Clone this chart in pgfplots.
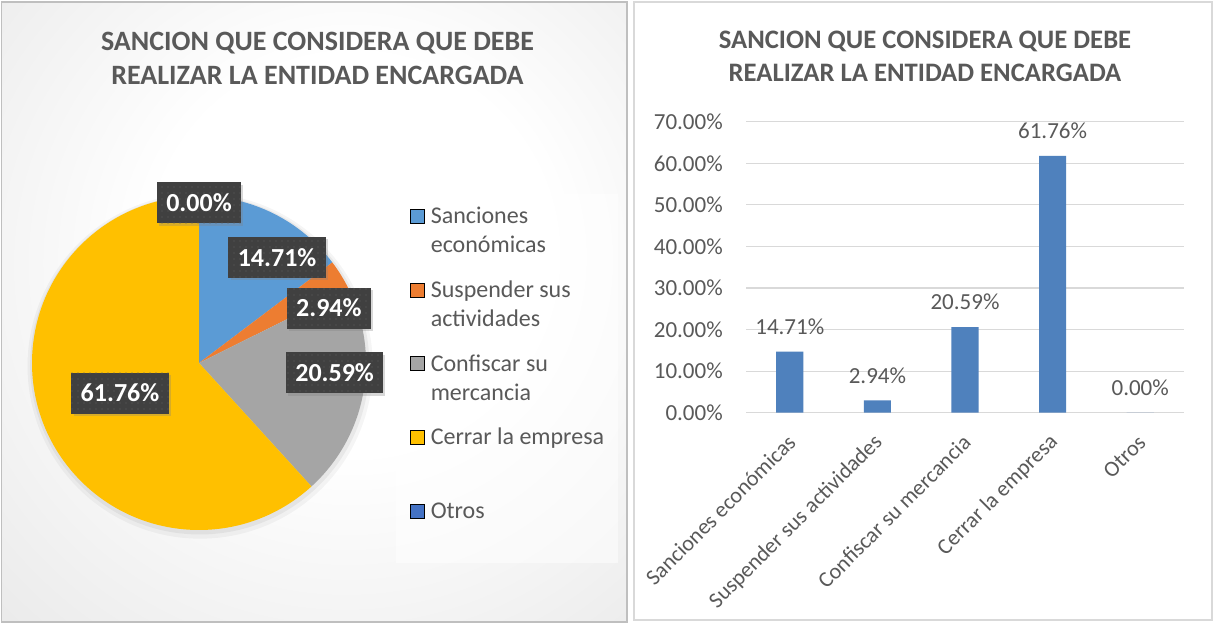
\documentclass[border=0pt]{standalone}
\usepackage{fontspec}
\setmainfont{Carlito}
\usepackage{pgfplots}
\usepackage{pgfplotstable}
\pgfplotsset{compat=1.18}
\usetikzlibrary{shadows,patterns.meta}
\pgfplotsset{/pgf/number format/assume math mode=true}

\definecolor{txt}{HTML}{595959}
\definecolor{cSan}{HTML}{5B9BD5}
\definecolor{cSus}{HTML}{ED7D31}
\definecolor{cCon}{HTML}{A5A5A5}
\definecolor{cCer}{HTML}{FFC000}
\definecolor{cOtr}{HTML}{4472C4}
\definecolor{barblue}{HTML}{4F81BD}
\definecolor{gridgray}{HTML}{D9D9D9}
\definecolor{lblbox}{HTML}{404040}

% left panel background
\pgfdeclareradialshading{panelbg}{\pgfpoint{4bp}{6bp}}{%
  color(0bp)=(white); color(16bp)=(white); color(50bp)=(black!12); color(72bp)=(black!22)}

% pie: value, label angle, label distance (px), colour
\pgfplotstableread{
name val  lang  ldist col
San  14.71 53.4 131   cSan
Sus  2.94  22.9 141   cSus
Con  20.59 -4.2 136   cCon
Cer  61.76 200.8 84.5 cCer
Otr  0.00  90   160   cOtr
}\piedata

\def\upx{0.026359}% 1 px in cm
\def\pieR{4.402}%   167 px

\tikzset{
  pielbl/.style={fill=lblbox, text=white, inner xsep=7pt, inner ysep=0pt,
    minimum height=30.75pt, font=\fontsize{19.5}{22}\selectfont\bfseries,
    drop shadow={shadow xshift=1.6pt, shadow yshift=-1.6pt, opacity=0.3},
    postaction={pattern={Dots[distance=4.5pt, radius=0.45pt]}, pattern color=white!18!lblbox}},
}

\begin{document}
\begin{tikzpicture}[x=0.75pt,y=0.75pt]
\useasboundingbox (0,0) rectangle (1215,625);
\fill[white] (0,0) rectangle (1215,625);

% ---------------- left panel: pie
\shade[shading=panelbg] (1.5,3) rectangle (627,623);
\draw[color=black!25, line width=1.2pt] (1.5,3) rectangle (627,623);
\fill[white, opacity=0.5] (396,62) rectangle (618,431);
\node[anchor=base, text=txt, font=\fontsize{21}{25}\selectfont\bfseries]
  at (317.5,574.5) {SANCION QUE CONSIDERA QUE DEBE};
\node[anchor=base, text=txt, font=\fontsize{21}{25}\selectfont\bfseries]
  at (317.5,540.4) {REALIZAR LA ENTIDAD ENCARGADA};

\gdef\pieslices{}\gdef\pielabels{}\gdef\piestart{90}
\pgfplotsforeachungrouped \i in {0,...,4}{%
  \pgfplotstablegetelem{\i}{val}\of\piedata\let\pval\pgfplotsretval
  \pgfplotstablegetelem{\i}{col}\of\piedata\let\pcol\pgfplotsretval
  \pgfplotstablegetelem{\i}{lang}\of\piedata\let\plang\pgfplotsretval
  \pgfplotstablegetelem{\i}{ldist}\of\piedata\let\pldist\pgfplotsretval
  \pgfmathsetmacro\pieend{\piestart-3.6*\pval}%
  \xdef\pieslices{\unexpanded\expandafter{\pieslices}%
    \noexpand\fill[\pcol] (axis cs:0,0) -- (axis cs:{\pieR*cos(\piestart)},{\pieR*sin(\piestart)})
      arc[start angle=\piestart, end angle=\pieend, radius=\pieR] -- cycle;}%
  \xdef\pielabels{\unexpanded\expandafter{\pielabels}%
    \noexpand\node[pielbl] at (axis cs:{\pldist*\upx*cos(\plang)},{\pldist*\upx*sin(\plang)})
      {\noexpand\pgfmathprintnumber[fixed,fixed zerofill,precision=2]{\pval}\noexpand\%};}%
  \global\let\piestart\pieend
}

\begin{axis}[
  at={(149.25pt,196.5pt)}, anchor=origin,
  x=1cm, y=1cm, xmin=-4.6, xmax=4.6, ymin=-4.6, ymax=4.6,
  hide axis, clip=false,
  legend style={at={(axis cs:5.5617,4.2069)}, anchor=north west,
    draw=none, fill=none, inner sep=0pt, row sep=38.5pt, column sep=4.5pt,
    nodes={inner sep=0pt, text=txt, font=\fontsize{18}{21.75}\selectfont},
    cells={anchor=base west}},
  legend image code/.code={\fill[#1] (0pt,0.5pt) rectangle (10.5pt,11pt);},
]
\fill[black, opacity=0.04] (axis cs:0.03,-0.08) circle[radius=4.55];
\fill[black, opacity=0.05] (axis cs:0.02,-0.05) circle[radius=4.47];
\pieslices
\pielabels
\addlegendimage{fill=cSan}
\addlegendentry{\parbox[t]{142pt}{\strut Sanciones\\económicas}}
\addlegendimage{fill=cSus}
\addlegendentry{\parbox[t]{142pt}{\strut Suspender sus\\actividades}}
\addlegendimage{fill=cCon}
\addlegendentry{\parbox[t]{142pt}{\strut Confiscar su\\mercancia}}
\addlegendimage{fill=cCer}
\addlegendentry{\parbox[t]{142pt}{\strut Cerrar la empresa}}
\addlegendimage{fill=cOtr}
\addlegendentry{\parbox[t]{142pt}{\strut Otros}}
\end{axis}

% ---------------- right panel: bars
\draw[color=gridgray, line width=1pt] (634,5) rectangle (1212,623);
\node[anchor=base, text=txt, font=\fontsize{20}{24}\selectfont\bfseries]
  at (925,576.2) {SANCION QUE CONSIDERA QUE DEBE};
\node[anchor=base, text=txt, font=\fontsize{20}{24}\selectfont\bfseries]
  at (925,543.2) {REALIZAR LA ENTIDAD ENCARGADA};

\begin{axis}[
  at={(559.5pt,159.225pt)}, anchor=south west, scale only axis,
  width=328.5pt, height=218.25pt,
  ybar, bar width=0.31,
  xmin=-0.5, xmax=4.5, ymin=0, ymax=70,
  xtick={0,...,4},
  xticklabels={Sanciones económicas,Suspender sus actividades,Confiscar su mercancia,Cerrar la empresa,Otros},
  ytick={0,10,...,70},
  yticklabel={\pgfmathprintnumber[fixed,fixed zerofill,precision=2]{\tick}\%},
  axis line style={draw=none}, major tick length=0pt,
  ymajorgrids, grid style={gridgray, line width=0.9pt},
  tick label style={font=\fontsize{17.25}{20}\selectfont, text=txt},
  yticklabel style={inner sep=0pt, xshift=-17.25pt},
  xticklabel style={font=\fontsize{16.6}{20}\selectfont, inner sep=0pt,
    xshift=1.5pt, yshift=-19.5pt, rotate=45, anchor=east},
  nodes near coords={\pgfmathprintnumber[fixed,fixed zerofill,precision=2]{\pgfplotspointmeta}\%},
  every node near coord/.append style={font=\fontsize{17.25}{20}\selectfont, text=txt,
    inner sep=0pt, anchor=south, yshift=12.5pt},
  clip=false,
]
\addplot[fill=barblue, draw=none] coordinates {(0,14.71) (1,2.94) (2,20.59) (3,61.76) (4,0.00)};
\end{axis}
\end{tikzpicture}
\end{document}
